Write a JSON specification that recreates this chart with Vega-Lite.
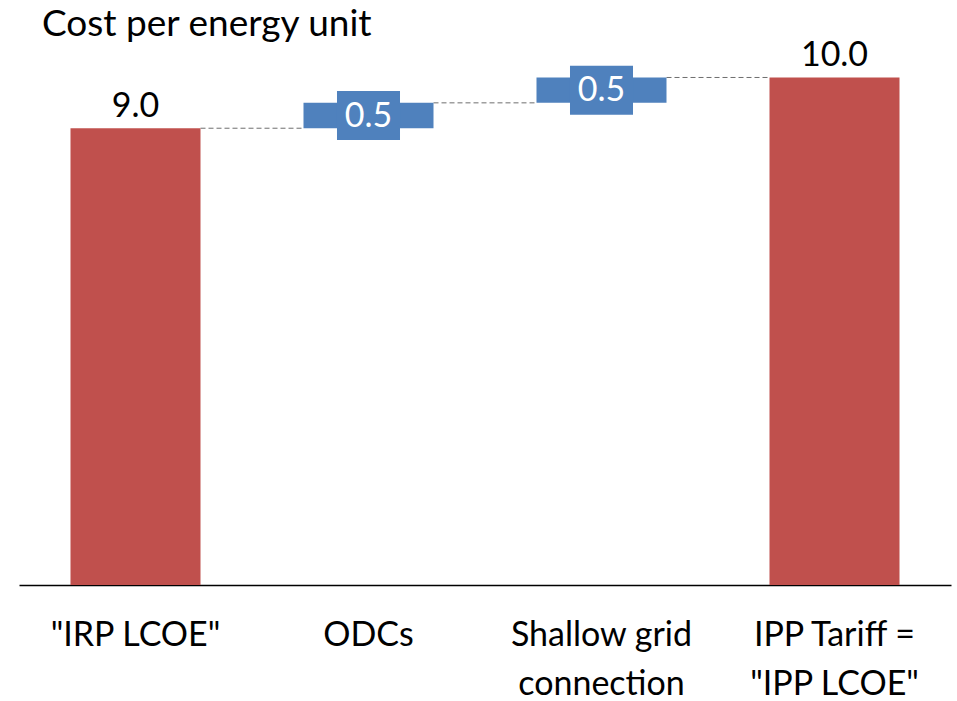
{
  "$schema": "https://vega.github.io/schema/vega-lite/v6.json",
  "width": 932,
  "height": 540,
  "autosize": {"type": "none"},
  "padding": {"left": 19, "top": 45, "right": 6, "bottom": 116},
  "background": "white",
  "config": {"view": {"stroke": null}, "font": "Lato"},
  "title": {"text": "Cost per energy unit", "anchor": "start", "font": "Lato", "fontSize": 37, "fontWeight": "normal", "color": "black", "dx": 23, "offset": -5},
  "data": {"values": [
    {"order": 1, "cat": "\"IRP LCOE\"", "start": 0, "end": 9, "label": "9.0", "kind": "total"},
    {"order": 2, "cat": "ODCs", "start": 9, "end": 9.5, "label": "0.5", "kind": "delta"},
    {"order": 3, "cat": "Shallow grid connection", "start": 9.5, "end": 10, "label": "0.5", "kind": "delta"},
    {"order": 4, "cat": "IPP Tariff = \"IPP LCOE\"", "start": 0, "end": 10, "label": "10.0", "kind": "total"}
  ]},
  "encoding": {
    "x": {"field": "cat", "type": "nominal", "sort": {"field": "order"},
      "scale": {"paddingInner": 0.442, "paddingOuter": 0.221},
      "axis": {"title": null, "domainColor": "black", "domainWidth": 1.5, "ticks": false, "tickSize": 0,
        "labelAngle": 0, "labelFont": "Lato", "labelFontSize": 34, "labelColor": "black", "labelPadding": 33,
        "labelLineHeight": 49, "labelBaseline": "top", "labelLimit": 0, "labelOverlap": false,
        "labelExpr": "datum.value == 'Shallow grid connection' ? ['Shallow grid', 'connection'] : datum.value == 'IPP Tariff = \"IPP LCOE\"' ? ['IPP Tariff =', '\"IPP LCOE\"'] : datum.value"}}
  },
  "layer": [
    {
      "transform": [
        {"window": [{"op": "lead", "field": "cat", "as": "next"}], "sort": [{"field": "order"}]},
        {"filter": "datum.next != null"}
      ],
      "mark": {"type": "rule", "color": "#6e6e6e", "strokeWidth": 1, "strokeDash": [5, 3]},
      "encoding": {
        "x": {"field": "cat", "type": "nominal", "sort": {"field": "order"}, "bandPosition": 1},
        "x2": {"field": "next", "bandPosition": 0},
        "y": {"field": "end", "type": "quantitative", "scale": {"domain": [0, 10.64], "nice": false}, "axis": null}
      }
    },
    {
      "mark": {"type": "bar"},
      "encoding": {
        "y": {"field": "start", "type": "quantitative", "scale": {"domain": [0, 10.64], "nice": false}, "axis": null},
        "y2": {"field": "end"},
        "color": {"field": "kind", "type": "nominal", "scale": {"domain": ["total", "delta"], "range": ["#C0504D", "#4F81BD"]}, "legend": null}
      }
    },
    {
      "transform": [{"filter": "datum.kind == 'delta'"}, {"calculate": "(datum.start + datum.end) / 2", "as": "mid"}],
      "mark": {"type": "point", "filled": true, "opacity": 1, "color": "#4F81BD", "strokeWidth": 0, "size": 2401,
        "shape": "M-1.286,-1L1.286,-1L1.286,1L-1.286,1Z"},
      "encoding": {
        "y": {"field": "mid", "type": "quantitative", "scale": {"domain": [0, 10.64], "nice": false}, "axis": null}
      }
    },
    {
      "transform": [{"filter": "datum.kind == 'delta'"}, {"calculate": "(datum.start + datum.end) / 2", "as": "mid"}],
      "mark": {"type": "text", "color": "white", "font": "Lato", "fontSize": 34, "baseline": "middle", "align": "center", "dy": 1},
      "encoding": {
        "y": {"field": "mid", "type": "quantitative", "scale": {"domain": [0, 10.64], "nice": false}, "axis": null},
        "text": {"field": "label"}
      }
    },
    {
      "transform": [{"filter": "datum.kind == 'total'"}],
      "mark": {"type": "text", "color": "black", "font": "Lato", "fontSize": 34, "baseline": "alphabetic", "align": "center", "dy": -11},
      "encoding": {
        "y": {"field": "end", "type": "quantitative", "scale": {"domain": [0, 10.64], "nice": false}, "axis": null},
        "text": {"field": "label"}
      }
    }
  ]
}
